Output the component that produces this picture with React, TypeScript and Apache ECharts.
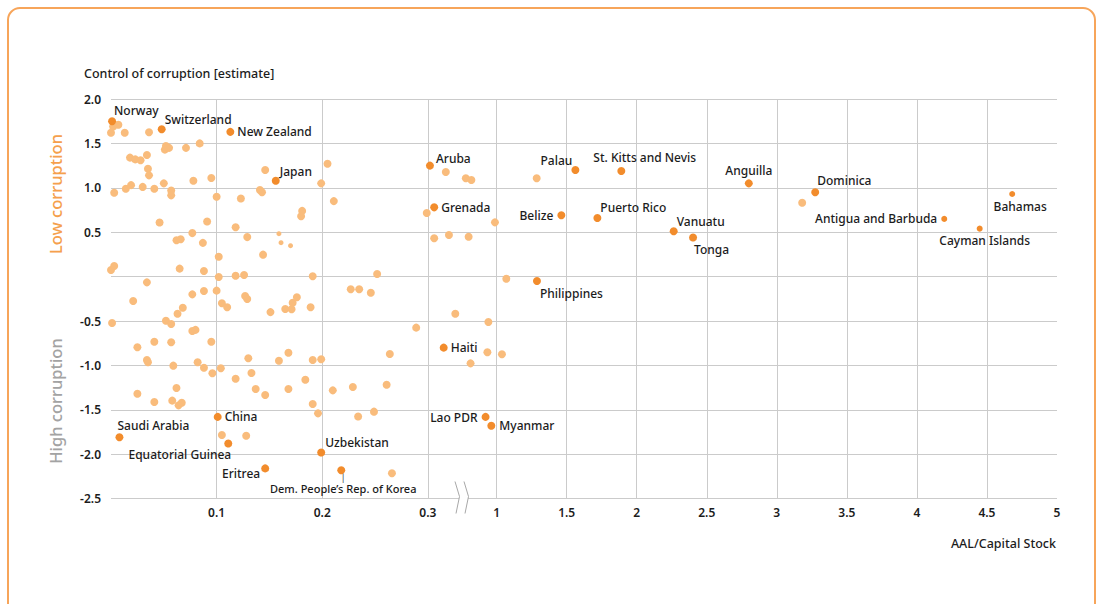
import React, { useEffect, useRef } from "react";
import * as echarts from "echarts";

const FONT = '"Noto Sans", "DejaVu Sans", sans-serif';

// Y-axis tick values (Control of corruption estimate)
const yMin = -2.5;
const yMax = 2.0;
const yStep = 0.5;

// X-axis ticks: broken axis, left segment (low AAL/Capital) and right segment
const leftTicks = [0.1, 0.2, 0.3];
const rightTicks = [1, 1.5, 2, 2.5, 3, 3.5, 4, 4.5, 5];
const leftRange = [0, 0.3333];
const rightRange = [0.76, 5];

// Highlighted, labelled economies
const labelledNames = [
  "Norway", "Switzerland", "New Zealand", "Japan", "Aruba", "Grenada", "Palau",
  "St. Kitts and Nevis", "Belize", "Puerto Rico", "Anguilla", "Dominica", "Vanuatu",
  "Tonga", "Philippines", "Haiti", "Lao PDR", "Myanmar", "Uzbekistan",
  "Dem. People’s Rep. of Korea", "Eritrea", "Equatorial Guinea", "China", "Saudi Arabia",
];
const labelledAAL = [
  0.001, 0.048, 0.113, 0.156, 0.302, 0.306, 1.562, 1.89, 1.462, 1.719, 2.8, 3.274, 2.264,
  2.402, 1.288, 0.315, 0.921, 0.962, 0.199, 0.218, 0.146, 0.111, 0.101, 0.008,
];
const labelledControl = [
  1.75, 1.66, 1.63, 1.08, 1.25, 0.78, 1.2, 1.19, 0.69, 0.66, 1.05, 0.95, 0.51, 0.44,
  -0.05, -0.8, -1.58, -1.68, -1.98, -2.18, -2.16, -1.88, -1.58, -1.81,
];

// Highlighted economies drawn with smaller markers
const smallNames = ["Bahamas", "Antigua and Barbuda", "Cayman Islands"];
const smallAAL = [4.68, 4.195, 4.448];
const smallControl = [0.93, 0.65, 0.54];

// Other economies [AAL/Capital Stock, Control of corruption]
const otherEconomies: [number, number][] = [
  [0.002, 1.69], [0.007, 1.71], [0.0, 1.62], [0.013, 1.62], [0.036, 1.625], [0.052, 1.47],
  [0.051, 1.43], [0.055, 1.45], [0.071, 1.45], [0.084, 1.5], [0.018, 1.34], [0.023, 1.32],
  [0.028, 1.31], [0.034, 1.37], [0.035, 1.215], [0.036, 1.14], [0.146, 1.2], [0.205, 1.27],
  [0.199, 1.05], [0.211, 0.85], [0.003, 0.945], [0.014, 0.99], [0.019, 1.03], [0.03, 1.01],
  [0.041, 0.99], [0.05, 1.05], [0.057, 0.97], [0.057, 0.915], [0.078, 1.08], [0.095, 1.11],
  [0.1, 0.9], [0.123, 0.88], [0.141, 0.975], [0.143, 0.95], [0.181, 0.74], [0.18, 0.68],
  [0.046, 0.61], [0.091, 0.62], [0.062, 0.41], [0.066, 0.42], [0.077, 0.49], [0.087, 0.38],
  [0.118, 0.555], [0.129, 0.445], [0.102, 0.224], [0.144, 0.247],
  [0.0, 0.074], [0.003, 0.12], [0.065, 0.09], [0.088, 0.063], [0.102, -0.005], [0.118, 0.01],
  [0.126, 0.018], [0.191, 0.003], [0.034, -0.065], [0.021, -0.275], [0.077, -0.2],
  [0.088, -0.162], [0.1, -0.158], [0.105, -0.3], [0.11, -0.346], [0.127, -0.218],
  [0.129, -0.252], [0.151, -0.4], [0.165, -0.365], [0.171, -0.368], [0.172, -0.294],
  [0.176, -0.233], [0.189, -0.346], [0.227, -0.143], [0.235, -0.143], [0.001, -0.523],
  [0.068, -0.35], [0.063, -0.418], [0.052, -0.497], [0.057, -0.534], [0.077, -0.613],
  [0.08, -0.6], [0.095, -0.733], [0.025, -0.796], [0.041, -0.733], [0.057, -0.74],
  [0.034, -0.939], [0.035, -0.965], [0.059, -1.003], [0.082, -0.965], [0.088, -1.026],
  [0.096, -1.089], [0.104, -1.033], [0.13, -0.92], [0.133, -1.086], [0.118, -1.15],
  [0.137, -1.266], [0.146, -1.333], [0.159, -0.947], [0.168, -0.857], [0.191, -0.939],
  [0.199, -0.931], [0.168, -1.266], [0.184, -1.161], [0.191, -1.435], [0.196, -1.54],
  [0.21, -1.281], [0.229, -1.243], [0.234, -1.575], [0.025, -1.319], [0.041, -1.412],
  [0.058, -1.397], [0.062, -1.255], [0.064, -1.45], [0.067, -1.42], [0.105, -1.784],
  [0.128, -1.792],
  [0.317, 1.178], [0.299, 0.716], [0.306, 0.431], [0.32, 0.468], [0.246, -0.181],
  [0.252, 0.03], [0.326, -0.418], [0.289, -0.575], [0.264, -0.872], [0.261, -1.217],
  [0.249, -1.521], [0.266, -2.215],
  [0.78, 1.107], [0.82, 1.088], [1.286, 1.107], [0.988, 0.611], [0.8, 0.449], [1.069, -0.024],
  [0.941, -0.511], [0.934, -0.852], [1.038, -0.875], [0.814, -0.977], [3.181, 0.832],
];
// Other economies drawn with smaller markers
const otherSmall: [number, number][] = [[0.159, 0.483], [0.161, 0.382], [0.17, 0.348]];

// ---- styling (label placement, colours) ----
const LIGHT = "#F9BC7C";
const DARK = "#F28C2C";
const GRID = "#CBCBCB";
const TEXT = "#1c1c1c";

type Place = { dx: number; dy: number; align: "left" | "right" | "center" };
const labelPlacement: Record<string, Place> = {
  Norway: { dx: 2, dy: -11, align: "left" },
  Switzerland: { dx: 3, dy: -10, align: "left" },
  "New Zealand": { dx: 7, dy: 0, align: "left" },
  Japan: { dx: 4, dy: -9, align: "left" },
  Aruba: { dx: 6, dy: -7, align: "left" },
  Grenada: { dx: 7, dy: 0, align: "left" },
  Palau: { dx: -3, dy: -10, align: "right" },
  "St. Kitts and Nevis": { dx: -28, dy: -13, align: "left" },
  Belize: { dx: -8, dy: 0, align: "right" },
  "Puerto Rico": { dx: 3, dy: -10, align: "left" },
  Anguilla: { dx: 0, dy: -13, align: "center" },
  Dominica: { dx: 2, dy: -12, align: "left" },
  Vanuatu: { dx: 3, dy: -10, align: "left" },
  Tonga: { dx: 1, dy: 12, align: "left" },
  Philippines: { dx: 3, dy: 12, align: "left" },
  Haiti: { dx: 7, dy: 0, align: "left" },
  "Lao PDR": { dx: -8, dy: 1, align: "right" },
  Myanmar: { dx: 8, dy: 0, align: "left" },
  Uzbekistan: { dx: 4, dy: -10, align: "left" },
  "Dem. People’s Rep. of Korea": { dx: 2, dy: 14, align: "center" },
  Eritrea: { dx: -5, dy: 5, align: "right" },
  "Equatorial Guinea": { dx: 3, dy: 11, align: "right" },
  China: { dx: 7, dy: 0, align: "left" },
  "Saudi Arabia": { dx: -2, dy: -12, align: "left" },
  Bahamas: { dx: 8, dy: 12, align: "center" },
  "Antigua and Barbuda": { dx: -7, dy: 0, align: "right" },
  "Cayman Islands": { dx: 5, dy: 12, align: "center" },
};

const gridOf = (x: number) => (x < 0.5 ? 0 : 1);

function namedItems(names: string[], xs: number[], ys: number[], grid: number) {
  const out: any[] = [];
  names.forEach((n, i) => {
    if (gridOf(xs[i]) !== grid) return;
    const p = labelPlacement[n];
    const isKorea = n.startsWith("Dem.");
    out.push({
      name: n,
      value: [xs[i], ys[i]],
      label: {
        show: true,
        position: "inside",
        offset: [p.dx, p.dy],
        align: p.align,
        verticalAlign: "middle",
        formatter: isKorea ? "{bar|│}\n{t|{b}}" : "{b}",
        rich: isKorea
          ? {
              bar: { fontSize: 8, lineHeight: 8, color: "#333", align: "center" },
              t: { fontSize: 11, lineHeight: 14, color: TEXT, fontFamily: FONT, align: "center" },
            }
          : undefined,
      },
    });
  });
  return out;
}

function buildOption() {
  const grids = [0, 1];
  const series: any[] = [];
  const labelStyle = { fontFamily: FONT, fontSize: 12, color: TEXT, fontWeight: 500 };
  grids.forEach((g) => {
    series.push({
      type: "scatter",
      xAxisIndex: g,
      yAxisIndex: g,
      symbolSize: 8,
      itemStyle: { color: LIGHT, opacity: 1 },
      data: otherEconomies.filter((p) => gridOf(p[0]) === g),
      silent: true,
      z: 2,
      markLine: {
        silent: true,
        symbol: ["none", "none"],
        label: { show: false },
        lineStyle: { color: GRID, type: "solid", width: 1 },
        data: (g === 0 ? leftTicks : rightTicks.filter((v) => v < 5)).map((v) => ({ xAxis: v })),
        z: 1,
      },
    });
    series.push({
      type: "scatter",
      xAxisIndex: g,
      yAxisIndex: g,
      symbolSize: 5,
      itemStyle: { color: LIGHT, opacity: 1 },
      data: otherSmall.filter((p) => gridOf(p[0]) === g),
      silent: true,
      z: 2,
    });
    series.push({
      type: "scatter",
      xAxisIndex: g,
      yAxisIndex: g,
      symbolSize: 8,
      itemStyle: { color: DARK, opacity: 1 },
      label: labelStyle,
      data: namedItems(labelledNames, labelledAAL, labelledControl, g),
      silent: true,
      z: 3,
    });
    series.push({
      type: "scatter",
      xAxisIndex: g,
      yAxisIndex: g,
      symbolSize: 6,
      itemStyle: { color: DARK, opacity: 1 },
      label: labelStyle,
      data: namedItems(smallNames, smallAAL, smallControl, g),
      silent: true,
      z: 3,
    });
  });

  const yAxisBase = (g: number) => ({
    type: "value",
    gridIndex: g,
    min: yMin,
    max: yMax,
    interval: yStep,
    axisLine: { show: false },
    axisTick: { show: false },
    splitLine: { show: true, lineStyle: { color: GRID, width: 1 } },
    axisLabel: {
      show: g === 0,
      margin: 10,
      fontFamily: FONT,
      fontSize: 12,
      fontWeight: 600,
      color: TEXT,
      formatter: (v: number) => (Math.abs(v) < 1e-9 ? "" : v.toFixed(1)),
    },
  });

  const xAxisBase = (g: number) => ({
    type: "value",
    gridIndex: g,
    min: g === 0 ? leftRange[0] : rightRange[0],
    max: g === 0 ? leftRange[1] : rightRange[1],
    axisLine: { show: false },
    axisTick: { show: false },
    splitLine: { show: false },
    axisLabel: {
      margin: 8,
      fontFamily: FONT,
      fontSize: 12,
      fontWeight: 600,
      color: TEXT,
      customValues: g === 0 ? leftTicks : rightTicks,
      showMinLabel: true,
      showMaxLabel: true,
      formatter: (v: number) => (g === 0 ? v.toFixed(1) : String(v)),
    },
  });

  const gx = 455;
  const gy = 481.5;
  const zig = (ox: number) => [
    [gx + ox, gy],
    [gx + ox + 4.5, gy + 15],
    [gx + ox + 1, gy + 32],
  ];

  return {
    animation: false,
    backgroundColor: "#ffffff",
    textStyle: { fontFamily: FONT },
    grid: [
      { left: 111, top: 99, width: 352, height: 399.6 },
      { left: 463, top: 99, width: 594, height: 399.6 },
    ],
    xAxis: [xAxisBase(0), xAxisBase(1)],
    yAxis: [yAxisBase(0), yAxisBase(1)],
    series,
    graphic: [
      {
        type: "rect",
        shape: { x: 8, y: 8, width: 1087, height: 620, r: 12 },
        style: { fill: "none", stroke: "#F7A55A", lineWidth: 2 },
        silent: true,
        z: 0,
      },
      {
        type: "text",
        x: 84,
        y: 73,
        style: {
          text: "Control of corruption [estimate]",
          font: `500 12.5px ${FONT}`,
          fill: TEXT,
          verticalAlign: "middle",
        },
      },
      {
        type: "text",
        x: 1056,
        y: 543,
        style: {
          text: "AAL/Capital Stock",
          font: `500 12.5px ${FONT}`,
          fill: TEXT,
          align: "right",
          verticalAlign: "middle",
        },
      },
      {
        type: "text",
        x: 55,
        y: 194,
        rotation: Math.PI / 2,
        style: {
          text: "Low corruption",
          font: `500 16.5px ${FONT}`,
          fill: "#F5A04C",
          align: "center",
          verticalAlign: "middle",
        },
      },
      {
        type: "text",
        x: 55,
        y: 401,
        rotation: Math.PI / 2,
        style: {
          text: "High corruption",
          font: `500 16.5px ${FONT}`,
          fill: "#A3A3A3",
          align: "center",
          verticalAlign: "middle",
        },
      },
      {
        type: "polygon",
        shape: { points: [...zig(0), ...zig(9).reverse()] },
        style: { fill: "#ffffff", stroke: "none" },
        z: 50,
      },
      {
        type: "polyline",
        shape: { points: zig(0) },
        style: { stroke: "#A8A8A8", lineWidth: 1, fill: "none" },
        z: 51,
      },
      {
        type: "polyline",
        shape: { points: zig(9) },
        style: { stroke: "#A8A8A8", lineWidth: 1, fill: "none" },
        z: 51,
      },
    ],
  };
}

export default function App() {
  const ref = useRef<HTMLDivElement>(null);
  useEffect(() => {
    if (!ref.current) return;
    const chart = echarts.init(ref.current, undefined, { renderer: "svg" });
    chart.setOption(buildOption() as any);
    return () => chart.dispose();
  }, []);
  return (
    <div
      ref={ref}
      style={{ position: "absolute", left: 0, top: 0, width: 1100, height: 604, background: "#fff" }}
    />
  );
}
